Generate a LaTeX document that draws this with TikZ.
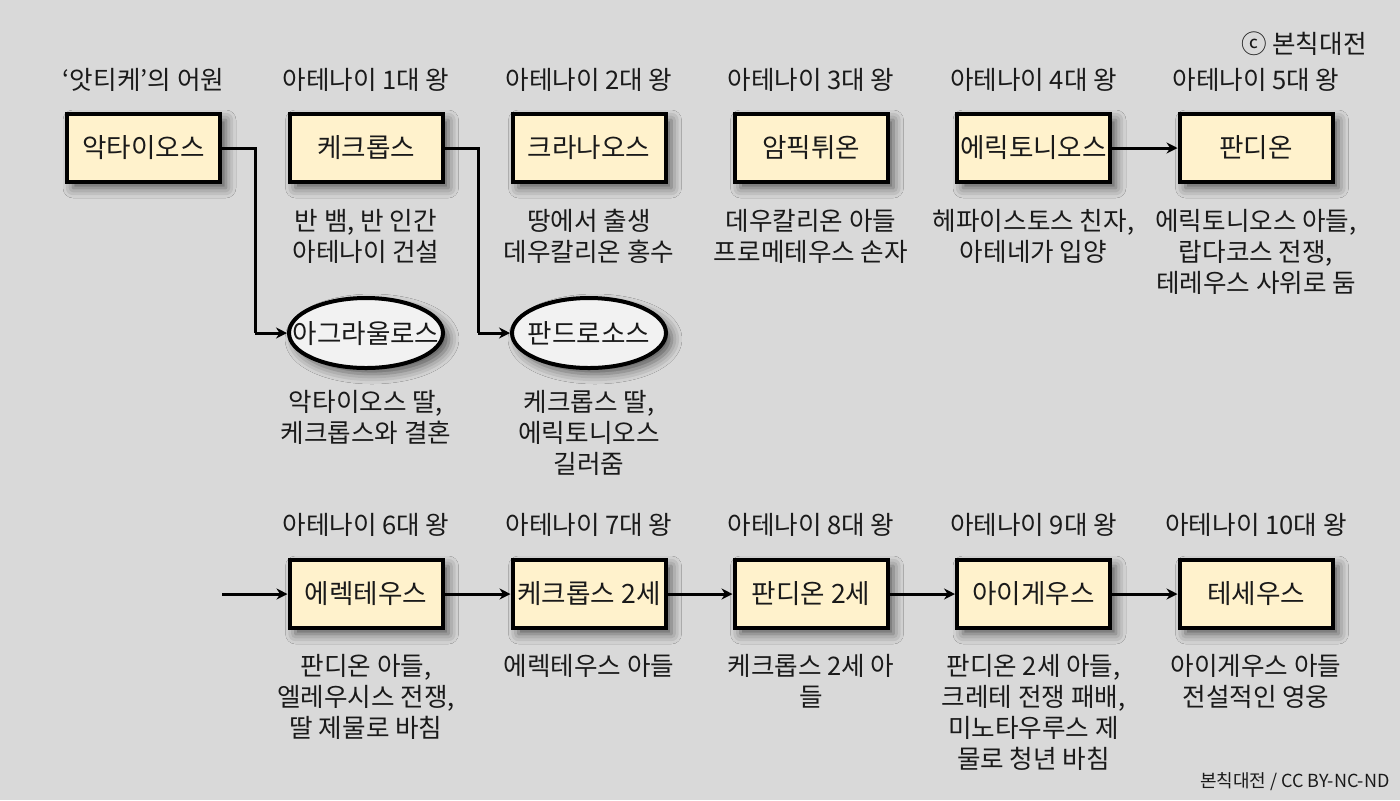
\documentclass[tikz,border=0pt]{standalone}
\usepackage{fontspec}
\setmainfont{Noto Sans CJK KR}
\usetikzlibrary{arrows.meta,shadows.blur,shapes.geometric}
\definecolor{bgc}{HTML}{D9D9D9}
\definecolor{boxfill}{HTML}{FFF2CC}
\definecolor{ellfill}{HTML}{F2F2F2}
\definecolor{txt}{HTML}{1A1A1A}
\newcommand{\ztext}[1]{\makebox[0pt][c]{\raisebox{-0.38em}[0pt][0pt]{#1}}}
\tikzset{
  softshadow/.style={blur shadow={shadow xshift=3pt, shadow yshift=-3pt, shadow blur radius=5pt, shadow opacity=60}},
  kingbox/.style={draw=black, line width=2pt, fill=boxfill, minimum width=76.5pt, minimum height=34pt,
    inner sep=0pt, text=txt, font=\fontsize{13.3}{15}\selectfont, softshadow},
  wifeell/.style={ellipse, draw=black, line width=2pt, fill=ellfill, minimum width=77pt, minimum height=35pt,
    inner sep=0pt, text=txt, font=\fontsize{13.3}{15}\selectfont, softshadow},
  hdr/.style={anchor=base, inner sep=0pt, text=txt, font=\fontsize{12.8}{15}\selectfont},
  desc/.style={anchor=north, inner sep=0pt, align=center, text=txt, font=\fontsize{12.8}{15.5}\selectfont},
  conn/.style={draw=black, line width=1.5pt, -{Stealth[length=5.5pt,width=5.5pt]}},
  link/.style={draw=black, line width=1.5pt}
}
\begin{document}
\begin{tikzpicture}[x=0.5pt,y=-0.5pt]
\fill[bgc] (0,0) rectangle (1400,800);
\useasboundingbox (0,0) rectangle (1400,800);

% copyright
\node[anchor=base east, inner sep=0pt, text=txt, font=\fontsize{12.8}{15}\selectfont] (copy) at (1367,53) {ⓒ 본칙대전};

% row 1 headers
\node[hdr] (h1) at (143.5,89) {‘앗티케’의 어원};
\node[hdr] (h2) at (366,89) {아테나이 1대 왕};
\node[hdr] (h3) at (589,89) {아테나이 2대 왕};
\node[hdr] (h4) at (811,89) {아테나이 3대 왕};
\node[hdr] (h5) at (1033.5,89) {아테나이 4대 왕};
\node[hdr] (h6) at (1256,89) {아테나이 5대 왕};

% row 1 boxes
\node[kingbox] (b1) at (143.5,148) {악타이오스};
\node[kingbox] (b2) at (366,148) {케크롭스};
\node[kingbox] (b3) at (589,148) {크라나오스};
\node[kingbox] (b4) at (811,148) {암픽튀온};
\node[kingbox] (b5) at (1033.5,148) {에릭토니오스};
\node[kingbox] (b6) at (1256,148) {판디온};

% row 1 descriptions
\node[desc] (d2) at (366,209) {반 뱀, 반 인간\\아테나이 건설};
\node[desc] (d3) at (589,209) {땅에서 출생\\데우칼리온 홍수};
\node[desc] (d4) at (811,209) {데우칼리온 아들\\프로메테우스 손자};
\node[desc] (d5) at (1033.5,209) {헤파이스토스 친자,\\아테네가 입양};
\node[desc] (d6) at (1256,209) {에릭토니오스 아들,\\랍다코스 전쟁,\\테레우스 사위로 둠};

% ellipses
\node[wifeell] (e1) at (366,333) {\ztext{아그라울로스}};
\node[wifeell] (e2) at (589,333) {\ztext{판드로소스}};
\node[desc] (de1) at (366,390) {악타이오스 딸,\\케크롭스와 결혼};
\node[desc] (de2) at (589,390) {케크롭스 딸,\\에릭토니오스\\길러줌};

% row 1 connectors
\coordinate (k1) at (255,333);
\coordinate (k2) at (478,333);
\draw[link] (b1.east) -| (k1);
\draw[conn] (k1) -- (e1.west);
\draw[link] (b2.east) -| (k2);
\draw[conn] (k2) -- (e2.west);
\draw[conn] (b5) -- (b6);

% row 2 headers
\node[hdr] (g2) at (366,534) {아테나이 6대 왕};
\node[hdr] (g3) at (589,534) {아테나이 7대 왕};
\node[hdr] (g4) at (811,534) {아테나이 8대 왕};
\node[hdr] (g5) at (1033.5,534) {아테나이 9대 왕};
\node[hdr] (g6) at (1256,534) {아테나이 10대 왕};

% row 2 boxes
\node[kingbox] (r2) at (366,594) {에렉테우스};
\node[kingbox] (r3) at (589,594) {케크롭스 2세};
\node[kingbox] (r4) at (811,594) {판디온 2세};
\node[kingbox] (r5) at (1033.5,594) {아이게우스};
\node[kingbox] (r6) at (1256,594) {테세우스};

% row 2 descriptions
\node[desc] (q2) at (366,654) {판디온 아들,\\엘레우시스 전쟁,\\딸 제물로 바침};
\node[desc] (q3) at (589,654) {에렉테우스 아들};
\node[desc] (q4) at (811,654) {케크롭스 2세 아\\들};
\node[desc] (q5) at (1033.5,654) {판디온 2세 아들,\\크레테 전쟁 패배,\\미노타우루스 제\\물로 청년 바침};
\node[desc] (q6) at (1256,654) {아이게우스 아들\\전설적인 영웅};

% row 2 connectors
\coordinate (start) at (222,594);
\draw[conn] (start) -- (r2.west);
\draw[conn] (r2) -- (r3);
\draw[conn] (r3) -- (r4);
\draw[conn] (r4) -- (r5);
\draw[conn] (r5) -- (r6);

% footer
\node[anchor=base east, inner sep=0pt, text=txt, font=\fontsize{9}{11}\selectfont] (foot) at (1390,787) {본칙대전 / CC BY-NC-ND};
\end{tikzpicture}
\end{document}
